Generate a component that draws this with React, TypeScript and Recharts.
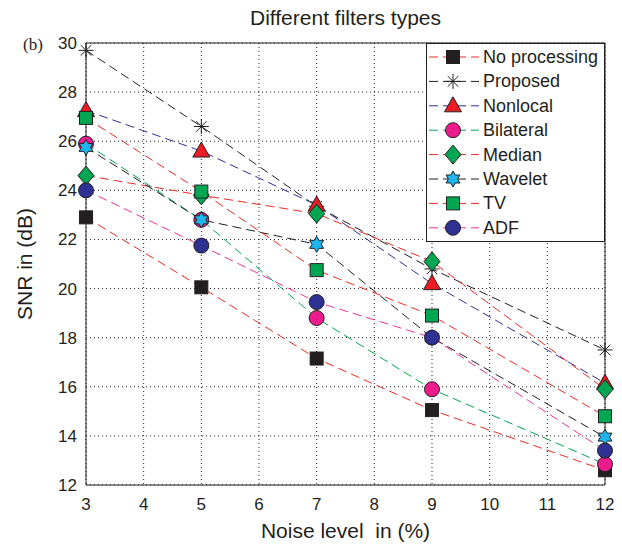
import React from "react";
import {
  CartesianGrid,
  Legend,
  Line,
  LineChart,
  ReferenceLine,
  XAxis,
  YAxis,
} from "recharts";

const noiseLevels = [3, 5, 7, 9, 12];
const xTicks = [3, 4, 5, 6, 7, 8, 9, 10, 11, 12];
const yTicks = [12, 14, 16, 18, 20, 22, 24, 26, 28, 30];

const noProcessing = [22.9, 20.05, 17.15, 15.05, 12.6];
const proposed = [29.7, 26.6, 23.35, 20.8, 17.5];
const nonlocal = [27.25, 25.6, 23.4, 20.2, 16.15];
const bilateral = [25.9, 22.8, 18.8, 15.9, 12.85];
const median = [24.6, 23.8, 23.05, 21.1, 15.9];
const wavelet = [25.75, 22.8, 21.8, 18.0, 13.95];
const tv = [26.95, 23.95, 20.75, 18.9, 14.8];
const adf = [24.0, 21.75, 19.45, 18.0, 13.4];

const series = [
  { key: "noProc", name: "No processing", values: noProcessing, stroke: "#ee2a24", shape: "square", fill: "#231f20" },
  { key: "proposed", name: "Proposed", values: proposed, stroke: "#231f20", shape: "asterisk", fill: "#231f20" },
  { key: "nonlocal", name: "Nonlocal", values: nonlocal, stroke: "#2e3192", shape: "triangle", fill: "#ed1c24" },
  { key: "bilateral", name: "Bilateral", values: bilateral, stroke: "#00a651", shape: "circle", fill: "#ec1c8c" },
  { key: "median", name: "Median", values: median, stroke: "#ee2a24", shape: "diamond", fill: "#00a651" },
  { key: "wavelet", name: "Wavelet", values: wavelet, stroke: "#231f20", shape: "hexagram", fill: "#1eb4ec" },
  { key: "tv", name: "TV", values: tv, stroke: "#ee2a24", shape: "square", fill: "#00a651" },
  { key: "adf", name: "ADF", values: adf, stroke: "#ec3399", shape: "circle", fill: "#2e3192" },
];

const data = noiseLevels.map((x, i) => {
  const row: Record<string, number> = { x };
  series.forEach((s) => {
    row[s.key] = s.values[i];
  });
  return row;
});

const FONT = '"Liberation Sans", Arial, Helvetica, sans-serif';

function Marker({ shape, cx, cy, fill }: { shape: string; cx: number; cy: number; fill: string }) {
  const edge = "#231f20";
  switch (shape) {
    case "square":
      return <rect x={cx - 6.5} y={cy - 6.5} width={13} height={13} fill={fill} stroke={edge} strokeWidth={1} />;
    case "circle":
      return <circle cx={cx} cy={cy} r={7.5} fill={fill} stroke={edge} strokeWidth={1} />;
    case "triangle":
      return (
        <polygon
          points={`${cx},${cy - 9} ${cx + 8.5},${cy + 6} ${cx - 8.5},${cy + 6}`}
          fill={fill}
          stroke={edge}
          strokeWidth={1}
        />
      );
    case "diamond":
      return (
        <polygon
          points={`${cx},${cy - 9.5} ${cx + 8},${cy} ${cx},${cy + 9.5} ${cx - 8},${cy}`}
          fill={fill}
          stroke={edge}
          strokeWidth={1}
        />
      );
    case "asterisk": {
      const r = 7.5;
      const d = r * 0.707;
      return (
        <g stroke={edge} strokeWidth={1}>
          <line x1={cx - r} y1={cy} x2={cx + r} y2={cy} />
          <line x1={cx} y1={cy - r} x2={cx} y2={cy + r} />
          <line x1={cx - d} y1={cy - d} x2={cx + d} y2={cy + d} />
          <line x1={cx - d} y1={cy + d} x2={cx + d} y2={cy - d} />
        </g>
      );
    }
    case "hexagram": {
      const pts: string[] = [];
      for (let i = 0; i < 12; i++) {
        const a = (Math.PI / 6) * i - Math.PI / 2;
        const r = i % 2 === 0 ? 8 : 4.6;
        pts.push(`${cx + r * Math.cos(a)},${cy + r * Math.sin(a)}`);
      }
      return <polygon points={pts.join(" ")} fill={fill} stroke={edge} strokeWidth={1} />;
    }
    default:
      return null;
  }
}

const LegendBox = () => (
  <svg width={179} height={199} style={{ display: "block" }}>
    <rect x={0.5} y={0.5} width={178} height={198} fill="#fff" stroke="#231f20" strokeWidth={1} />
    {series.map((s, i) => {
      const y = 14 + i * 24.4;
      return (
        <g key={s.key}>
          <line x1={3} y1={y} x2={53} y2={y} stroke={s.stroke} strokeWidth={1} strokeDasharray="9 5" />
          <Marker shape={s.shape} cx={27} cy={y} fill={s.fill} />
          <text x={57} y={y} dominantBaseline="central" fontSize={18} fontFamily={FONT} fill="#231f20">
            {s.name}
          </text>
        </g>
      );
    })}
  </svg>
);

export default function App() {
  return (
    <div
      style={{
        position: "absolute",
        left: 0,
        top: 0,
        width: 622,
        height: 552,
        background: "#fff",
        fontFamily: FONT,
      }}
    >
      <LineChart
        width={622}
        height={552}
        data={data}
        margin={{ top: 43, right: 17, left: 0, bottom: 0 }}
      >
        <CartesianGrid stroke="#231f20" strokeDasharray="1 3" />
        <XAxis
          dataKey="x"
          type="number"
          domain={[3, 12]}
          ticks={xTicks}
          height={67}
          tickLine={false}
          tickSize={6}
          tickMargin={7}
          axisLine={{ stroke: "#231f20" }}
          tick={{ fontSize: 17, fill: "#231f20", fontFamily: FONT }}
          label={{
            value: "Noise level\u00a0 in (%)",
            position: "insideBottom",
            offset: 14,
            style: { fontSize: 21, fill: "#231f20", fontFamily: FONT },
          }}
        />
        <YAxis
          type="number"
          domain={[12, 30]}
          ticks={yTicks}
          width={86}
          tickLine={false}
          tickSize={6}
          tickMargin={3}
          axisLine={{ stroke: "#231f20" }}
          tick={{ fontSize: 17, fill: "#231f20", fontFamily: FONT }}
          label={{
            value: "SNR in (dB)",
            angle: -90,
            position: "insideLeft",
            offset: 25,
            style: { fontSize: 21, fill: "#231f20", fontFamily: FONT, textAnchor: "middle" },
          }}
        />
        <ReferenceLine y={30} stroke="#231f20" strokeWidth={1} />
        <ReferenceLine x={12} stroke="#231f20" strokeWidth={1} />
        {series.map((s) => (
          <Line
            key={s.key}
            dataKey={s.key}
            name={s.name}
            type="linear"
            stroke={s.stroke}
            strokeWidth={1}
            strokeDasharray="9 5"
            isAnimationActive={false}
            activeDot={false}
            dot={(p: any) => (
              <Marker key={`${s.key}-${p.index}`} shape={s.shape} cx={p.cx} cy={p.cy} fill={s.fill} />
            )}
          />
        ))}
        <Legend
          layout="horizontal"
          verticalAlign="middle"
          align="center"
          wrapperStyle={{ position: "absolute", left: 426, top: 43, width: 179, height: 199 }}
          content={() => <LegendBox />}
        />
      </LineChart>
      <svg
        width={622}
        height={40}
        style={{ position: "absolute", left: 0, top: 0, pointerEvents: "none" }}
      >
        <text x={345.5} y={25} textAnchor="middle" fontSize={21} fontFamily={FONT} fill="#231f20">
          Different filters types
        </text>
      </svg>
      <svg
        width={60}
        height={60}
        style={{ position: "absolute", left: 0, top: 30, pointerEvents: "none" }}
      >
        <text x={23} y={20} fontSize={17} fontFamily='"Liberation Serif", "Times New Roman", serif' fill="#231f20">
          (b)
        </text>
      </svg>
    </div>
  );
}
